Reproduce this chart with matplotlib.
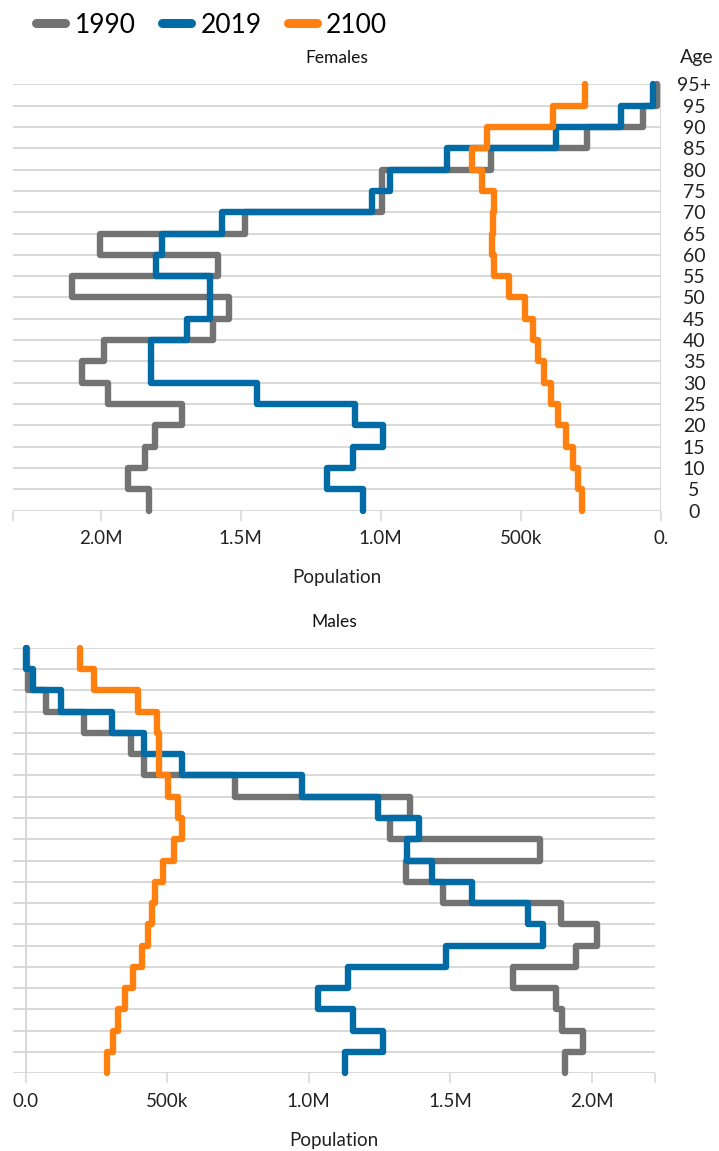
import matplotlib
matplotlib.use("Agg")
import matplotlib.pyplot as plt
from matplotlib.lines import Line2D
import numpy as np

plt.rcParams["font.family"] = ["Lato", "DejaVu Sans"]

# Age groups (lower edge of each 5-year band), y-axis labels at the band edges
age_labels = ["0", "5", "10", "15", "20", "25", "30", "35", "40", "45", "50",
              "55", "60", "65", "70", "75", "80", "85", "90", "95", "95+"]

# Population in millions, one value per age band 0-4 ... 95-99
female_1990 = [1.827, 1.904, 1.842, 1.806, 1.711, 1.974, 2.068, 1.989, 1.599, 1.541,
               2.104, 1.580, 2.003, 1.485, 0.995, 0.995, 0.606, 0.263, 0.063, 0.013]
female_2019 = [1.064, 1.193, 1.100, 0.991, 1.092, 1.443, 1.821, 1.821, 1.693, 1.610,
               1.610, 1.804, 1.782, 1.568, 1.032, 0.967, 0.762, 0.374, 0.142, 0.029]
female_2100 = [0.280, 0.296, 0.312, 0.338, 0.366, 0.393, 0.417, 0.437, 0.457, 0.485,
               0.540, 0.594, 0.602, 0.598, 0.597, 0.639, 0.675, 0.621, 0.384, 0.270]

male_1990 = [1.906, 1.968, 1.894, 1.874, 1.723, 1.944, 2.018, 1.892, 1.476, 1.343,
             1.817, 1.288, 1.358, 0.740, 0.418, 0.371, 0.206, 0.072, 0.009, 0.003]
male_2019 = [1.128, 1.261, 1.155, 1.034, 1.140, 1.485, 1.829, 1.774, 1.578, 1.435,
             1.346, 1.389, 1.246, 0.975, 0.551, 0.418, 0.304, 0.124, 0.027, 0.001]
male_2100 = [0.288, 0.310, 0.327, 0.351, 0.380, 0.410, 0.431, 0.445, 0.457, 0.484,
             0.525, 0.551, 0.539, 0.504, 0.472, 0.472, 0.463, 0.398, 0.242, 0.192]

years = ["1990", "2019", "2100"]
colors = ["#737373", "#006ba4", "#ff800e"]
grid_color = "#d6d6d6"

x_ticks = [0, 0.5, 1.0, 1.5, 2.0]
female_tick_labels = ["0.", "500k", "1.0M", "1.5M", "2.0M"]
male_tick_labels = ["0.0", "500k", "1.0M", "1.5M", "2.0M"]


def draw_panel(ax, series, xlim, tick_labels, title):
    edges = np.arange(len(age_labels))
    ax.set_xlim(*xlim)
    ax.set_ylim(edges[0], edges[-1])
    for spine in ax.spines.values():
        spine.set_visible(False)

    ax.set_yticks(edges)
    ax.grid(axis="y", color=grid_color, linewidth=1.3, zorder=0)
    ax.axvline(0, color=grid_color, linewidth=1.3, zorder=0)

    for values, color in zip(series, colors):
        ax.stairs(values, edges, orientation="horizontal", baseline=None,
                  color=color, linewidth=4.6, capstyle="round",
                  joinstyle="round", clip_on=False, zorder=3)

    # ticks at the labelled values plus one at the far end of the domain
    far_end = max(xlim)
    ax.set_xticks(x_ticks + [far_end])
    ax.set_xticklabels(tick_labels + [""])
    ax.tick_params(axis="x", length=7, width=1.1, color=grid_color,
                   labelsize=13.5, pad=7, labelcolor="#222222")
    ax.set_xlabel("Population", fontsize=13.5, labelpad=16, color="#222222")
    ax.set_title(title, fontsize=12.5, pad=15, color="#111111")


fig = plt.figure(figsize=(7.19, 11.51), dpi=100)
W, H = 719, 1151

ax_f = fig.add_axes([13.3 / W, 1 - 510.7 / H, (660.7 - 13.3) / W, (510.7 - 84.3) / H])
ax_m = fig.add_axes([13.3 / W, 1 - 1073.3 / H, (655 - 13.3) / W, (1073.3 - 647.7) / H])

draw_panel(ax_f, [female_1990, female_2019, female_2100], (2.312, 0),
           female_tick_labels, "Females")
draw_panel(ax_m, [male_1990, male_2019, male_2100], (-0.0438, 2.2237),
           male_tick_labels, "Males")

# age labels on the right of the female panel
ax_f.yaxis.tick_right()
ax_f.set_yticklabels(age_labels)
ax_f.tick_params(axis="y", length=0, pad=24, labelsize=14, labelcolor="#222222")
for lbl in ax_f.get_yticklabels():
    lbl.set_horizontalalignment("center")
ax_m.tick_params(axis="y", length=0, labelleft=False)

fig.text(697 / W, 1 - 57 / H, "Age", ha="center", va="center",
         fontsize=14, color="#222222")

handles = [Line2D([], [], color=c, linewidth=6.5, solid_capstyle="round") for c in colors]
fig.legend(handles, years, loc="upper left", bbox_to_anchor=(0.025, 1.005),
           ncol=3, frameon=False, fontsize=19, handlelength=1.1,
           handletextpad=0.35, columnspacing=1.0, borderpad=0.2)

fig.savefig("out.png", dpi=100)
